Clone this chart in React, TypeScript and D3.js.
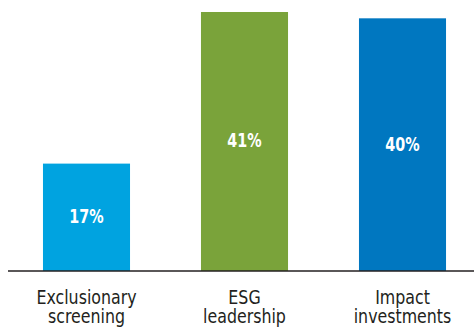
import React from "react";
import * as d3 from "d3";

const categories = ["Exclusionary\nscreening", "ESG\nleadership", "Impact\ninvestments"];
const values = [17, 41, 40];
const colors = ["#00A3E0", "#7AA33A", "#0077C0"];

const W = 474;
const H = 327;
const FONT = "'DejaVu Sans Condensed', 'DejaVu Sans', sans-serif";

export default function App() {
  const x = d3
    .scaleBand<string>()
    .domain(categories)
    .range([7.5, 481.5])
    .paddingInner(0.449)
    .paddingOuter(0.2245);
  const y = d3.scaleLinear().domain([0, 41]).range([271, 12]);

  return (
    <svg
      width={W}
      height={H}
      style={{ position: "absolute", left: 0, top: 0, background: "#fff" }}
      fontFamily={FONT}
    >
      {categories.map((c, i) => {
        const bx = x(c)!;
        const by = y(values[i]);
        const bh = y(0) - by;
        const cx = bx + x.bandwidth() / 2;
        return (
          <g key={c}>
            <rect x={bx} y={by} width={x.bandwidth()} height={bh} fill={colors[i]} />
            <text
              transform={`translate(${cx},${by + bh / 2 - 1}) scale(0.84,1)`}
              dy="0.36em"
              textAnchor="middle"
              fill="#fff"
              fontWeight="bold"
              fontSize={19}
            >
              {values[i]}%
            </text>
            {c.split("\n").map((line, j) => (
              <text
                key={j}
                transform={`translate(${cx},${304 + j * 19}) scale(0.88,1)`}
                textAnchor="middle"
                fill="#231f20"
                fontSize={20}
              >
                {line}
              </text>
            ))}
          </g>
        );
      })}
      <line x1={8} x2={474} y1={y(0)} y2={y(0)} stroke="#231f20" strokeWidth={1.5} />
    </svg>
  );
}
